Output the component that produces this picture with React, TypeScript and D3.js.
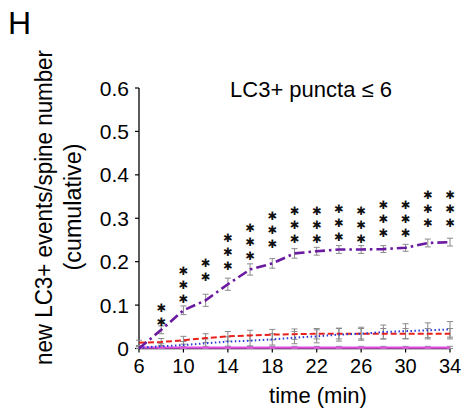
import React from "react";
import * as d3 from "d3";

const times = [6, 8, 10, 12, 14, 16, 18, 20, 22, 24, 26, 28, 30, 32, 34];
const purple = [0.0, 0.043, 0.088, 0.111, 0.148, 0.182, 0.196, 0.219, 0.224, 0.228, 0.228, 0.229, 0.232, 0.243, 0.245];
const purpleErr = [0.0, 0.009, 0.01, 0.014, 0.014, 0.013, 0.011, 0.011, 0.009, 0.009, 0.009, 0.008, 0.008, 0.009, 0.009];
const red = [0.013, 0.015, 0.019, 0.024, 0.028, 0.03, 0.032, 0.033, 0.034, 0.034, 0.034, 0.034, 0.034, 0.034, 0.034];
const redErr = [0.006, 0.008, 0.009, 0.01, 0.011, 0.012, 0.012, 0.012, 0.012, 0.012, 0.012, 0.012, 0.012, 0.012, 0.012];
const blue = [0.002, 0.005, 0.008, 0.012, 0.016, 0.018, 0.021, 0.025, 0.028, 0.032, 0.034, 0.038, 0.04, 0.042, 0.044];
const blueErr = [0.003, 0.006, 0.008, 0.01, 0.011, 0.012, 0.013, 0.014, 0.015, 0.015, 0.015, 0.016, 0.017, 0.017, 0.018];
const magenta = [0.002, 0.002, 0.002, 0.002, 0.002, 0.002, 0.002, 0.002, 0.002, 0.002, 0.002, 0.002, 0.002, 0.002, 0.002];
const magentaErr = [0.002, 0.003, 0.003, 0.003, 0.003, 0.003, 0.003, 0.003, 0.003, 0.003, 0.003, 0.003, 0.003, 0.003, 0.003];
const starCounts = [0, 2, 3, 2, 3, 3, 3, 3, 3, 3, 3, 3, 3, 3, 3];
const starBase = [0, 0.061, 0.114, 0.164, 0.19, 0.213, 0.24, 0.253, 0.253, 0.257, 0.253, 0.265, 0.267, 0.288, 0.288];
const yTicks = [0, 0.1, 0.2, 0.3, 0.4, 0.5, 0.6];
const xTicks = [6, 10, 14, 18, 22, 26, 30, 34];
const yTickLabels = ["0", "0.1", "0.2", "0.3", "0.4", "0.5", "0.6"];

const FONT = "Liberation Sans, Arial, sans-serif";

export default function App() {
  const x = d3.scaleLinear().domain([6, 34]).range([139, 450]);
  const y = d3.scaleLinear().domain([0, 0.6]).range([348.5, 88]);
  const line = (vals: number[]) =>
    d3.line<number>().x((_, i) => x(times[i])).y((v) => y(v))(vals) || "";

  const series = [
    { vals: magenta, err: magentaErr, color: "#e050e0", dash: "", w: 2.2 },
    { vals: red, err: redErr, color: "#e8201c", dash: "6,3", w: 2 },
    { vals: blue, err: blueErr, color: "#2a3ad8", dash: "1.5,2.5", w: 2 },
    { vals: purple, err: purpleErr, color: "#6a1aa0", dash: "10,4,2.5,4", w: 2.6 },
  ];

  return (
    <svg width={471} height={410} style={{ position: "absolute", left: 0, top: 0, background: "#fff" }}>
      <text x={8} y={34} fontFamily={FONT} fontSize={32}>H</text>
      {/* y axis title */}
      <text transform="translate(52,207.5) rotate(-90)" textAnchor="middle" fontFamily={FONT} fontSize={23}
        textLength={315} lengthAdjust="spacingAndGlyphs">
        new LC3+ events/spine number
      </text>
      <text transform="translate(81,207) rotate(-90)" textAnchor="middle" fontFamily={FONT} fontSize={23}
        textLength={127} lengthAdjust="spacingAndGlyphs">
        (cumulative)
      </text>
      {/* axes */}
      <line x1={139} x2={139} y1={y(0.6)} y2={y(0)} stroke="#000" strokeWidth={1.3} />
      <line x1={139} x2={x(34)} y1={y(0)} y2={y(0)} stroke="#000" strokeWidth={1.3} />
      {yTicks.map((t, i) => (
        <g key={"y" + t}>
          <line x1={135} x2={139} y1={y(t)} y2={y(t)} stroke="#000" strokeWidth={1.2} />
          <text x={129} y={y(t) + 7.5} textAnchor="end" fontFamily={FONT} fontSize={21}>
            {yTickLabels[i]}
          </text>
        </g>
      ))}
      {xTicks.map((t) => (
        <g key={"x" + t}>
          <line x1={x(t)} x2={x(t)} y1={y(0)} y2={y(0) + 4} stroke="#000" strokeWidth={1.2} />
          <text x={x(t)} y={373} textAnchor="middle" fontFamily={FONT} fontSize={20}>
            {t}
          </text>
        </g>
      ))}
      <text x={318} y={403} textAnchor="middle" fontFamily={FONT} fontSize={22}>time (min)</text>
      <text x={311} y={97} textAnchor="middle" fontFamily={FONT} fontSize={22}>LC3+ puncta ≤ 6</text>
      {/* error bars */}
      {series.map((s, si) =>
        s.vals.map((v, i) => {
          const cx = x(times[i]);
          const top = y(v + s.err[i]);
          const bot = y(Math.max(0, v - s.err[i]));
          return (
            <g key={"e" + si + "-" + i} stroke="#8a8a8a" strokeWidth={1}>
              <line x1={cx} x2={cx} y1={top} y2={bot} />
              <line x1={cx - 3} x2={cx + 3} y1={top} y2={top} />
              <line x1={cx - 3} x2={cx + 3} y1={bot} y2={bot} />
            </g>
          );
        })
      )}
      {/* lines */}
      {series.map((s, si) => (
        <path key={"l" + si} d={line(s.vals)} fill="none" stroke={s.color} strokeWidth={s.w} strokeDasharray={s.dash || undefined} />
      ))}
      {/* significance stars */}
      {starCounts.map((c, i) =>
        d3.range(c).map((k) => (
          <text key={"s" + i + "-" + k} x={x(times[i])} y={y(starBase[i]) - k * 14}
            textAnchor="middle" dominantBaseline="central" fontFamily="DejaVu Sans" fontSize={11.5} fill="#111">
            ✱
          </text>
        ))
      )}
    </svg>
  );
}
